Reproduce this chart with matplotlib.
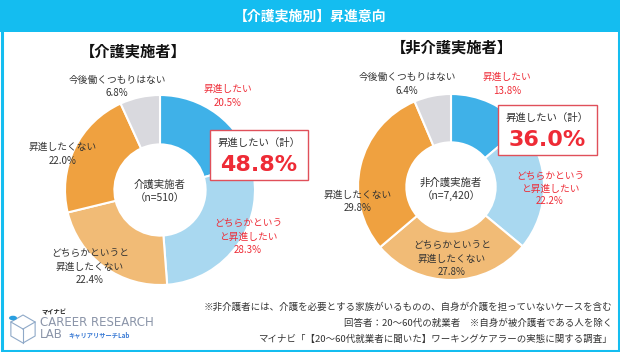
import matplotlib
matplotlib.use('Agg')
import numpy as np
from matplotlib import pyplot as plt
from matplotlib.patches import Rectangle, Circle, Polygon

plt.rcParams['font.family'] = ['Noto Sans CJK JP', 'DejaVu Sans']

# data
categories = ['昇進したい', 'どちらかというと昇進したい', 'どちらかというと昇進したくない',
              '昇進したくない', '今後働くつもりはない']
care_vals = [20.5, 28.3, 22.4, 22.0, 6.8]
noncare_vals = [13.8, 22.2, 27.8, 29.8, 6.4]
group_names = ['介護実施者', '非介護実施者']
group_n = ['510', '7,420']
colors = ['#3FB1E8', '#A9D8F0', '#F1BB76', '#EFA140', '#D9D9DE']

W, H = 620, 352
CYAN = '#14BDF0'
RED = '#EE2B36'
DARK = '#333333'

fig = plt.figure(figsize=(6.2, 3.52), dpi=100)
fig.patch.set_facecolor('white')

def P(x, y):
    return (x / W, 1 - y / H)

def txt(x, y, s, **kw):
    kw.setdefault('ha', 'center')
    kw.setdefault('va', 'center')
    fig.text(x / W, 1 - y / H, s, **kw)

# frame and banner
fig.patches.append(Rectangle(P(0, 32), 1, 32 / H, transform=fig.transFigure,
                             facecolor=CYAN, edgecolor='none', zorder=0))
fig.patches.append(Rectangle(P(1.5, 350.5), 617 / W, 349 / H, transform=fig.transFigure,
                             facecolor='none', edgecolor=CYAN, linewidth=2.2, zorder=5))
txt(310, 17, '【介護実施別】昇進意向', color='white', fontsize=10, fontweight='bold')

def donut(cx, cy, R, vals):
    ax = fig.add_axes([(cx - R) / W, 1 - (cy + R) / H, 2 * R / W, 2 * R / H])
    ax.pie(vals, colors=colors, startangle=90, counterclock=False, radius=1,
           wedgeprops=dict(width=0.52, edgecolor='white', linewidth=1.5))
    ax.set_xlim(-1, 1)
    ax.set_ylim(-1, 1)
    ax.axis('off')
    return ax

def label(x, ys, lines, color=DARK, fs=7):
    for y, s in zip(ys, lines):
        txt(x, y, s, color=color, fontsize=fs)

def callout(x0, y0, x1, y1, total):
    fig.patches.append(Rectangle(P(x0, y1), (x1 - x0) / W, (y1 - y0) / H,
                                 transform=fig.transFigure, facecolor='white',
                                 edgecolor='#E0505A', linewidth=1.0, zorder=3))
    xm = (x0 + x1) / 2
    txt(xm, y0 + 13, '昇進したい（計）', color=DARK, fontsize=7.5, zorder=4)
    txt(xm, y0 + 35, f'{total:.1f}%', color=RED, fontsize=16, fontweight='bold',
        family=['DejaVu Sans'], zorder=4)

# left: 介護実施者
txt(133, 52, '【' + group_names[0] + '】', fontsize=11, fontweight='bold', color='#111111')
donut(160, 190, 95, care_vals)
p = [f'{v:.1f}%' for v in care_vals]
label(228, [89, 103], ['昇進したい', p[0]], RED)
label(248, [223, 237, 250], ['どちらかという', 'と昇進したい', p[1]], RED)
label(90, [253, 267, 280], ['どちらかというと', '昇進したくない', p[2]])
label(63, [147, 161], ['昇進したくない', p[3]])
label(117, [80, 93], ['今後働くつもりはない', p[4]])
label(160, [185, 198], [group_names[0], f'（n={group_n[0]}）'], fs=7.5)
callout(210, 130, 308, 180, care_vals[0] + care_vals[1])

# right: 非介護実施者
txt(452, 48, '【' + group_names[1] + '】', fontsize=11, fontweight='bold', color='#111111')
donut(451, 187, 93, noncare_vals)
p = [f'{v:.1f}%' for v in noncare_vals]
label(507, [77, 91], ['昇進したい', p[0]], RED)
label(550, [176, 189, 201], ['どちらかという', 'と昇進したい', p[1]], RED)
label(452, [245, 259, 272], ['どちらかというと', '昇進したくない', p[2]])
label(358, [195, 208], ['昇進したくない', p[3]])
label(407, [77, 91], ['今後働くつもりはない', p[4]])
label(451, [183, 196], [group_names[1], f'（n={group_n[1]}）'], fs=7.5)
callout(498, 105, 597, 155, noncare_vals[0] + noncare_vals[1])

# footnotes
notes = ['※非介護者には、介護を必要とする家族がいるものの、自身が介護を担っていないケースを含む',
         '回答者：20～60代の就業者　※自身が被介護者である人を除く',
         'マイナビ「【20～60代就業者に聞いた】ワーキングケアラーの実態に関する調査」']
for y, s in zip([307, 323, 339], notes):
    txt(612, y, s, ha='right', fontsize=6.8, color=DARK)

# logo
cx, cy, s = 23, 329, 14
hexpts = [P(cx + s * np.cos(a), cy + s * np.sin(a)) for a in np.radians(np.arange(30, 390, 60))]
fig.patches.append(Polygon(hexpts, closed=True, transform=fig.transFigure,
                           facecolor='none', edgecolor='#8FA9C8', linewidth=0.8))
for a in [150, 270, 30]:
    x0, y0 = P(cx, cy)
    x1, y1 = P(cx + s * np.cos(np.radians(a)), cy - s * np.sin(np.radians(a)))
    fig.add_artist(plt.Line2D([x0, x1], [y0, y1], transform=fig.transFigure,
                              color='#8FA9C8', linewidth=0.8))
fig.patches.append(Circle(P(13, 318), 4 / W, transform=fig.transFigure,
                          facecolor='#2A9FE0', edgecolor='none'))
txt(41, 312, 'マイナビ', ha='left', fontsize=4.5, fontweight='bold', color='#222222')
txt(40, 323, 'CAREER RESEARCH', ha='left', fontsize=8.5, color='#8A94A8', family=['DejaVu Sans'])
txt(40, 335, 'LAB', ha='left', fontsize=8.5, color='#8A94A8', family=['DejaVu Sans'])
txt(68, 335, 'キャリアリサーチLab', ha='left', fontsize=4.5, color='#3A7BD5', fontweight='bold')

fig.savefig('out.png', dpi=100)
